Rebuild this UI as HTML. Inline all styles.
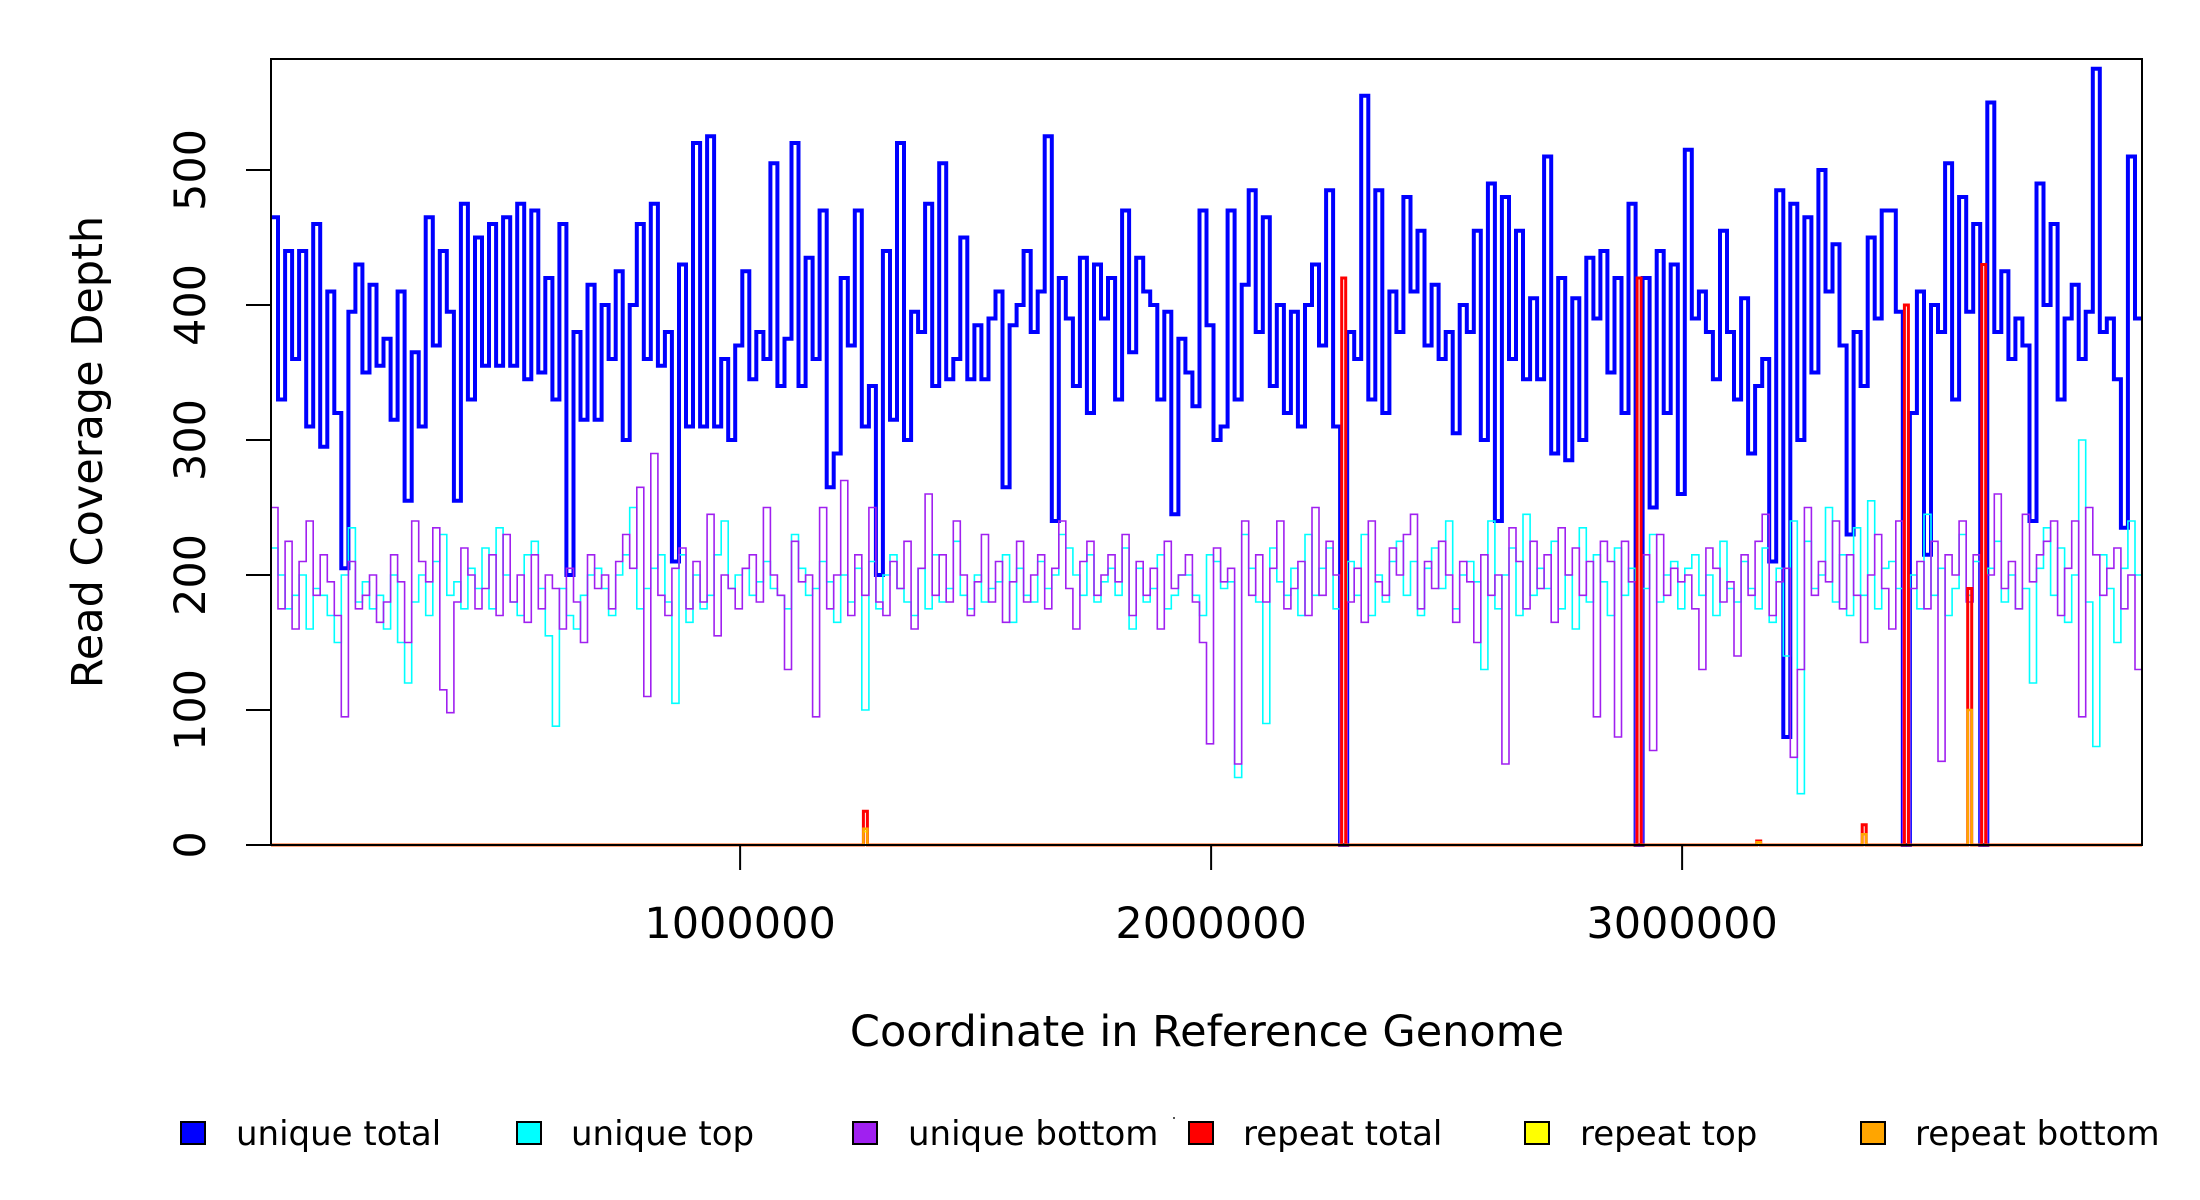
<!DOCTYPE html>
<html><head><meta charset="utf-8"><style>
html,body{margin:0;padding:0;background:#fff;}
svg{display:block;font-family:"DejaVu Sans","Liberation Sans",sans-serif;}
</style></head><body>
<svg id="chart" width="2200" height="1200" viewBox="0 0 2200 1200" xmlns="http://www.w3.org/2000/svg">
<g id="series"></g>
<rect x="271" y="59" width="1871" height="786" fill="none" stroke="#000" stroke-width="2"/>
<g id="axes"></g>
<text x="1207" y="1046" font-size="43" text-anchor="middle">Coordinate in Reference Genome</text>
<text transform="translate(102,452) rotate(-90)" font-size="43" text-anchor="middle">Read Coverage Depth</text>
<g font-size="34">
 <rect x="181" y="1122" width="24" height="22" fill="#0000ff" stroke="#000" stroke-width="2"/>
 <text x="236" y="1145">unique total</text>
 <rect x="517" y="1122" width="24" height="22" fill="#00ffff" stroke="#000" stroke-width="2"/>
 <text x="571" y="1145">unique top</text>
 <rect x="853" y="1122" width="24" height="22" fill="#a020f0" stroke="#000" stroke-width="2"/>
 <text x="908" y="1145">unique bottom</text>
 <rect x="1189" y="1122" width="24" height="22" fill="#ff0000" stroke="#000" stroke-width="2"/>
 <text x="1243" y="1145">repeat total</text>
 <rect x="1525" y="1122" width="24" height="22" fill="#ffff00" stroke="#000" stroke-width="2"/>
 <text x="1580" y="1145">repeat top</text>
 <rect x="1861" y="1122" width="24" height="22" fill="#ffa500" stroke="#000" stroke-width="2"/>
 <text x="1915" y="1145">repeat bottom</text>
 <rect x="1173" y="1117" width="2" height="2" fill="#555"/>
</g>
</svg>
<script>
const yTicks = [0,100,200,300,400,500];
const xTicks = [1000000,2000000,3000000];
const uniqueTotal = [
465,330,440,360,440,310,460,295,410,320,
205,395,430,350,415,355,375,315,410,255,
365,310,465,370,440,395,255,475,330,450,
355,460,355,465,355,475,345,470,350,420,
330,460,200,380,315,415,315,400,360,425,
300,400,460,360,475,355,380,210,430,310,
520,310,525,310,360,300,370,425,345,380,
360,505,340,375,520,340,435,360,470,265,
290,420,370,470,310,340,200,440,315,520,
300,395,380,475,340,505,345,360,450,345,
385,345,390,410,265,385,400,440,380,410,
525,240,420,390,340,435,320,430,390,420,
330,470,365,435,410,400,330,395,245,375,
350,325,470,385,300,310,470,330,415,485,
380,465,340,400,320,395,310,400,430,370,
485,310,0,380,360,555,330,485,320,410,
380,480,410,455,370,415,360,380,305,400,
380,455,300,490,240,480,360,455,345,405,
345,510,290,420,285,405,300,435,390,440,
350,420,320,475,0,420,250,440,320,430,
260,515,390,410,380,345,455,380,330,405,
290,340,360,210,485,80,475,300,465,350,
500,410,445,370,230,380,340,450,390,470,
470,395,0,320,410,215,400,380,505,330,
480,395,460,0,550,380,425,360,390,370,
240,490,400,460,330,390,415,360,395,575,
380,390,345,235,510,390];
const uniqueTop = [
220,200,175,185,200,160,190,185,170,150,
200,235,180,195,175,185,160,200,150,120,
180,200,170,210,230,185,195,175,205,190,
220,175,235,200,180,170,215,225,190,155,
88,190,170,160,185,200,205,190,170,200,
215,250,175,190,205,215,180,105,215,165,
200,175,185,215,240,190,200,205,185,195,
210,190,185,175,230,205,185,190,210,195,
165,200,180,205,100,210,175,200,215,190,
180,170,205,175,215,180,190,225,185,175,
200,180,190,195,215,165,205,185,180,210,
190,200,230,220,200,185,215,180,195,205,
185,220,160,205,180,190,215,175,185,200,
200,185,170,215,210,190,195,50,230,205,
180,90,220,195,185,205,170,230,185,205,
220,175,0,210,185,230,170,200,180,210,
225,185,210,170,205,220,190,240,175,200,
210,195,130,240,175,200,220,170,245,185,
205,190,225,175,200,160,235,180,215,195,
170,220,185,205,0,190,230,180,200,210,
175,205,215,185,200,170,225,190,180,210,
190,175,220,165,205,140,240,38,225,190,
200,250,180,215,170,235,185,255,175,205,
210,190,0,200,175,245,185,205,170,190,
230,185,210,0,205,225,180,200,175,190,
120,205,235,185,220,165,200,300,180,73,
215,190,150,205,240,200];
const uniqueBottom = [
250,175,225,160,210,240,185,215,195,170,
95,210,175,185,200,165,180,215,195,150,
240,210,195,235,115,98,180,220,200,175,
190,215,170,230,180,200,165,215,175,200,
190,160,205,180,150,215,190,200,175,210,
230,205,265,110,290,185,170,205,220,175,
210,180,245,155,200,190,175,205,215,180,
250,200,185,130,225,195,200,95,250,175,
200,270,170,215,185,250,180,170,210,190,
225,160,205,260,185,215,180,240,200,170,
195,230,180,210,165,195,225,180,200,215,
175,205,240,190,160,210,225,185,200,215,
195,230,170,210,185,205,160,225,190,200,
215,180,150,75,220,195,205,60,240,185,
215,180,205,240,175,190,210,170,250,185,
225,200,0,180,205,165,240,195,185,220,
200,230,245,175,210,190,225,200,165,210,
195,150,215,185,200,60,235,210,175,225,
190,215,165,235,200,220,185,210,95,225,
210,80,225,195,0,215,70,230,185,205,
195,200,175,130,220,205,180,195,140,215,
185,225,245,170,195,205,65,130,250,185,
210,195,240,175,215,185,150,200,230,190,
160,240,0,190,210,175,225,62,215,200,
240,180,215,0,200,260,190,210,175,245,
195,215,225,240,170,205,240,95,250,215,
185,205,220,175,200,130];
const repeatBins = [84,152,194,211,226,232,241,243];
const repeatTotalVals = [25,420,420,3,15,400,190,430];
const repeatTopVals = [10,0,0,1,8,0,100,0];
const repeatBottomVals = [12,0,0,2,8,0,100,0];

const NS='http://www.w3.org/2000/svg';
const X0=271, X1=2142, Y0=845, Y1=59;
const pxPerBase = 471/1000000, baseAtLeft = 4000;
function xs(v){ return X0 + (v-baseAtLeft)*pxPerBase; }
const yPer100 = 135;
function ys(v){ return Y0 - v*yPer100/100; }
const nBins = uniqueTotal.length;
const binW = ((X1-X0)/pxPerBase)/nBins;
function binStart(i){ return baseAtLeft + i*binW; }

function stepPath(vals){
  let d='';
  for(let i=0;i<vals.length;i++){
    const xa=xs(binStart(i)), xb=xs(binStart(i+1)), y=ys(vals[i]);
    d += (i===0?'M':'L')+xa.toFixed(1)+','+y.toFixed(1)+'L'+xb.toFixed(1)+','+y.toFixed(1);
  }
  return d;
}
function spikePath(bins, vals){
  let d='M'+X0+','+Y0;
  bins.forEach((b,k)=>{
    const xc=xs(binStart(b)+binW/2);
    d+='L'+(xc-2).toFixed(1)+','+Y0+'L'+(xc-2).toFixed(1)+','+ys(vals[k]).toFixed(1)+'L'+(xc+2).toFixed(1)+','+ys(vals[k]).toFixed(1)+'L'+(xc+2).toFixed(1)+','+Y0;
  });
  d+='L'+X1+','+Y0;
  return d;
}
const g=document.getElementById('series');
function addPath(d,color,w,name){
  const p=document.createElementNS(NS,'path');
  p.setAttribute('d',d);
  p.setAttribute('fill','none');
  p.setAttribute('stroke',color);
  p.setAttribute('stroke-width',w);
  
  
  g.appendChild(p);
}
addPath(stepPath(uniqueTotal),'#0000ff',4,'unique-total-line');
addPath(stepPath(uniqueTop),'#00ffff',1.6,'unique-top-line');
addPath(stepPath(uniqueBottom),'#a020f0',1.6,'unique-bottom-line');
addPath(spikePath(repeatBins,repeatTotalVals),'#ff0000',3,'repeat-total-line');
addPath(spikePath(repeatBins,repeatTopVals),'#ffff00',2,'repeat-top-line');
addPath(spikePath(repeatBins,repeatBottomVals),'#ffa500',2.5,'repeat-bottom-line');

const ax=document.getElementById('axes');
yTicks.forEach(t=>{
  const y=ys(t);
  const l=document.createElementNS(NS,'line');
  l.setAttribute('x1',X0); l.setAttribute('x2',X0-25);
  l.setAttribute('y1',y); l.setAttribute('y2',y);
  l.setAttribute('stroke','#000'); l.setAttribute('stroke-width','2');
  
  
  ax.appendChild(l);
  const tx=document.createElementNS(NS,'text');
  tx.setAttribute('transform','translate(205,'+y+') rotate(-90)');
  tx.setAttribute('text-anchor','middle');
  tx.setAttribute('font-size','43');
  tx.textContent=String(t);
  
  
  ax.appendChild(tx);
});
xTicks.forEach(t=>{
  const x=xs(t);
  const l=document.createElementNS(NS,'line');
  l.setAttribute('x1',x); l.setAttribute('x2',x);
  l.setAttribute('y1',Y0); l.setAttribute('y2',Y0+25);
  l.setAttribute('stroke','#000'); l.setAttribute('stroke-width','2');
  
  
  ax.appendChild(l);
  const tx=document.createElementNS(NS,'text');
  tx.setAttribute('x',x); tx.setAttribute('y',938);
  tx.setAttribute('text-anchor','middle');
  tx.setAttribute('font-size','43');
  tx.textContent=String(t);
  
  
  ax.appendChild(tx);
});
</script>
</body></html>
